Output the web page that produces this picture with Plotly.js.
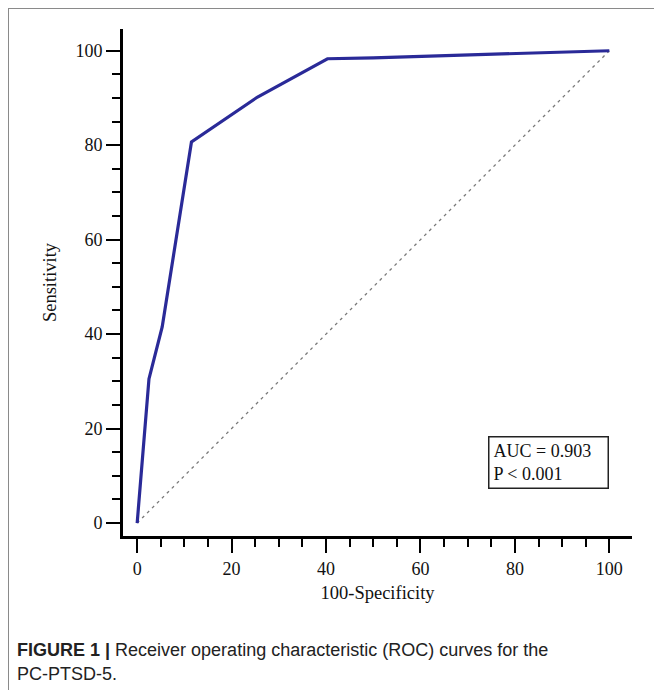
<!DOCTYPE html>
<html>
<head>
<meta charset="utf-8">
<script src="https://cdn.plot.ly/plotly-3.0.1.min.js"></script>
<style>
  html, body { margin: 0; padding: 0; background: #fff; }
  #wrap { position: relative; width: 654px; height: 690px; overflow: hidden; }
  #chart { position: absolute; left: 0; top: 0; width: 654px; height: 690px; }
  #frame { position: absolute; left: 8px; top: 8px; width: 660px; height: 700px;
           border-top: 1.5px solid #8a8a8a; border-left: 1.5px solid #8a8a8a; pointer-events: none; }
  #caption { position: absolute; left: 17px; top: 638px; width: 636px; white-space: nowrap;
             font-family: "Liberation Sans", Arial, sans-serif; font-size: 18px; line-height: 24px; color: #222; }
  #caption b { font-weight: bold; }
</style>
</head>
<body>
<div id="wrap">
  <div id="chart"></div>
  <div id="frame"></div>
  <div id="caption"><b>FIGURE 1 |</b> Receiver operating characteristic (ROC) curves for the<br>PC-PTSD-5.</div>
</div>
<script>
// 100-Specificity (false positive rate, %)
const fpr = [0, 2.5, 5.3, 11.5, 25.5, 40.3, 50, 60, 70, 80, 90, 100];
// Sensitivity (%)
const tpr = [0, 30.5, 41.5, 80.7, 90.2, 98.3, 98.5, 98.8, 99.1, 99.4, 99.7, 100];
// Reference (chance) line
const refX = [0, 100];
const refY = [0, 100];
const tickVals = [0, 20, 40, 60, 80, 100];
const xTitle = "100-Specificity";
const yTitle = "Sensitivity";
const aucText = "AUC = 0.903<br>P &lt; 0.001";

const serif = "Liberation Serif, Times New Roman, serif";

const traces = [
  { x: refX, y: refY, mode: "lines", type: "scatter",
    line: { color: "#7a7a7a", width: 1.3, dash: "3px,4px" }, hoverinfo: "skip" },
  { x: fpr, y: tpr, mode: "lines", type: "scatter",
    line: { color: "#2a2a98", width: 3.2 } }
];

const axisCommon = {
  showgrid: false, zeroline: false, showline: true, linecolor: "#000", linewidth: 3,
  ticks: "outside", ticklen: 14, tickwidth: 2, tickcolor: "#000",
  tickvals: tickVals,
  tickfont: { family: serif, size: 18, color: "#111" },
  minor: { dtick: 5, tick0: 0, ticks: "outside", ticklen: 8, tickwidth: 2, tickcolor: "#000" }
};

const layout = {
  width: 654, height: 690,
  margin: { l: 123, r: 22, t: 29, b: 154 },
  paper_bgcolor: "#fff", plot_bgcolor: "#fff",
  showlegend: false,
  xaxis: Object.assign({}, axisCommon, {
    range: [-3, 104.8],
    title: { text: xTitle, font: { family: serif, size: 18.5, color: "#111" }, standoff: 9 }
  }),
  yaxis: Object.assign({}, axisCommon, {
    range: [-2.75, 104.6],
    title: { text: yTitle, font: { family: serif, size: 18.5, color: "#111" }, standoff: 14 }
  }),
  annotations: [
    { x: 100, y: 7.2, xref: "x", yref: "y", xanchor: "right", yanchor: "bottom",
      text: aucText, showarrow: false, align: "left",
      font: { family: serif, size: 18, color: "#111" },
      bordercolor: "#222", borderwidth: 1.5, borderpad: 4, bgcolor: "#fff",
      width: 110, height: 42 }
  ]
};

Plotly.newPlot("chart", traces, layout, { displayModeBar: false, staticPlot: true });
</script>
</body>
</html>
